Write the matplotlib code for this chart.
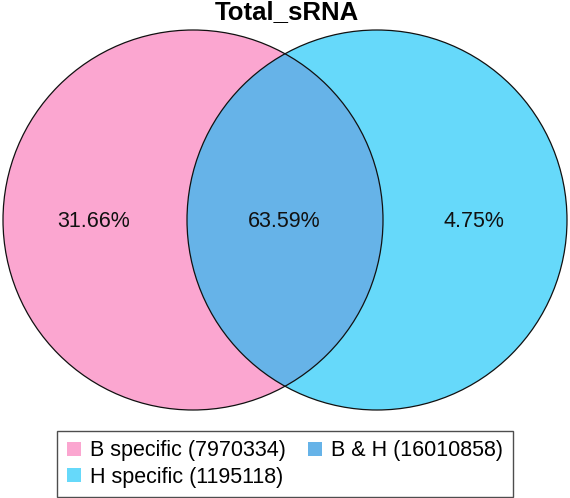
import matplotlib
matplotlib.use("Agg")
import matplotlib.pyplot as plt
from matplotlib.patches import Circle, Patch

plt.rcParams["font.family"] = ["Liberation Sans", "DejaVu Sans"]

title = "Total_sRNA"
labels = ["B specific", "B & H", "H specific"]
counts = [7970334, 16010858, 1195118]
colors = ["#FBA6D0", "#66B3E8", "#66D9FA"]

total = sum(counts)
pcts = [100.0 * c / total for c in counts]

fig = plt.figure(figsize=(5.7, 4.98), dpi=100)
ax = fig.add_axes([0, 0, 1, 1])
ax.set_xlim(0, 570)
ax.set_ylim(498, 0)
ax.set_aspect("equal")
ax.axis("off")

# circle layout in pixel units
r = 190
left_c = (193, 220)
right_c = (377, 220)

left = Circle(left_c, r, facecolor=colors[0], edgecolor="none")
right = Circle(right_c, r, facecolor=colors[2], edgecolor="none")
ax.add_patch(left)
ax.add_patch(right)

# overlap: right circle clipped by left one
clipper = Circle(left_c, r, transform=ax.transData, facecolor="none", edgecolor="none")
ax.add_patch(clipper)
both = Circle(right_c, r, facecolor=colors[1], edgecolor="none")
ax.add_patch(both)
both.set_clip_path(clipper)

for c in (left_c, right_c):
    ax.add_patch(Circle(c, r, facecolor="none", edgecolor="#111111", linewidth=0.9))

# region labels
pos_x = [94, 284, 474]
for x, p in zip(pos_x, pcts):
    ax.text(x, 221, "%.2f%%" % p, ha="center", va="center", fontsize=15.5, color="#111111")

ax.text(287, 12, title, ha="center", va="center", fontsize=18.5, fontweight="bold")

handles = [
    Patch(facecolor=colors[0], edgecolor="none", label="%s (%d)" % (labels[0], counts[0])),
    Patch(facecolor=colors[2], edgecolor="none", label="%s (%d)" % (labels[2], counts[2])),
    Patch(facecolor=colors[1], edgecolor="none", label="%s (%d)" % (labels[1], counts[1])),
]
leg = fig.legend(
    handles=handles,
    ncol=2,
    loc="center",
    bbox_to_anchor=(285 / 570, 1 - 464 / 498),
    fontsize=15.5,
    frameon=True,
    fancybox=False,
    handlelength=0.65,
    handleheight=0.65,
    handletextpad=0.45,
    columnspacing=1.0,
    labelspacing=0.25,
    borderpad=0.45,
)
leg.get_frame().set_edgecolor("#222222")
leg.get_frame().set_linewidth(1.0)

plt.savefig("out.png", dpi=100)
